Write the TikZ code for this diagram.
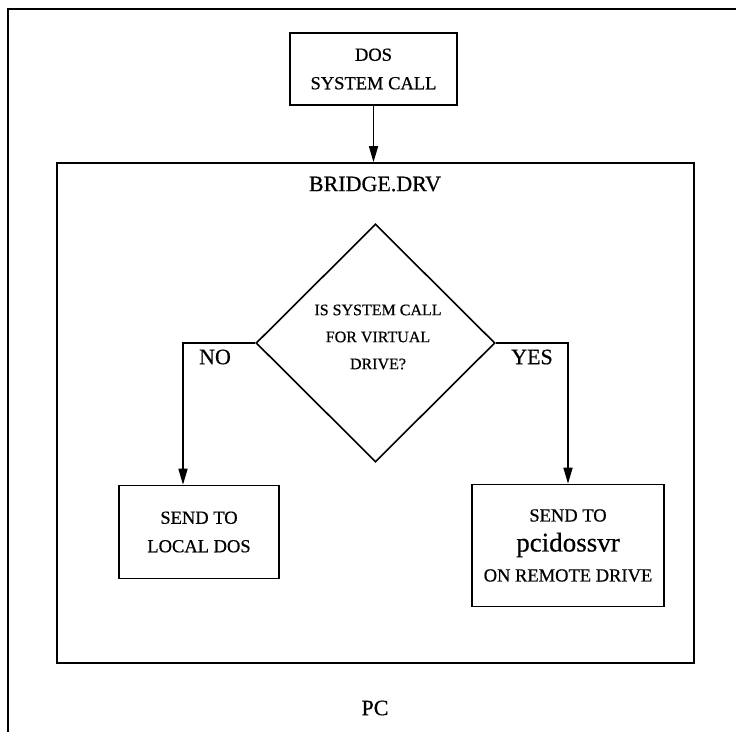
\documentclass[tikz,border=0pt]{standalone}
\usepackage{fontspec}
\setmainfont{Liberation Serif}[FakeBold=0.6]
\usetikzlibrary{arrows.meta,shapes.geometric}

\tikzset{
  every picture/.style={x=1pt,y=-1pt},
  wire/.style={line width=1.6pt},
  flow/.style={wire,-{Triangle[length=16pt,width=9pt]}},
  box/.style={draw,line width=1.6pt,rectangle,inner sep=0pt,align=center},
  small/.style={font=\fontsize{18.5}{28.5}\selectfont},
  big/.style={font=\fontsize{22}{28}\selectfont},
}

\begin{document}
\begin{tikzpicture}
  \useasboundingbox (0,0) rectangle (736,732);

  % enclosing PC frame: only its top and left sides fall on the page
  \coordinate (frameBL) at (8,732);
  \coordinate (frameTL) at (8,9);
  \coordinate (frameTR) at (736,9);
  \draw[wire] (frameBL) -- (frameTL) -- (frameTR);

  % incoming call
  \node[box,small,minimum width=167pt,minimum height=72pt] (dos) at (373.5,69)
    {DOS\\SYSTEM CALL};

  % driver frame
  \node[box,minimum width=637pt,minimum height=500pt] (bridge) at (375.5,413) {};
  \node[big] (bridgelbl) at (375,184) {BRIDGE.DRV};

  % decision
  \node[draw,line width=1.6pt,diamond,minimum width=239pt,minimum height=238pt,
        inner sep=0pt] (q) at (375.5,343) {};
  \node[align=center,font=\fontsize{16}{27}\selectfont] (qtext) at (378,337)
    {IS SYSTEM CALL\\FOR VIRTUAL\\DRIVE?};

  % outcomes
  \node[box,small,minimum width=160pt,minimum height=93pt] (local) at (199,532)
    {SEND TO\\LOCAL DOS};
  \node[box,font=\fontsize{18.5}{30}\selectfont,minimum width=192pt,minimum height=122pt]
    (remote) at (568,545.5)
    {SEND TO\\{\fontsize{27}{30}\selectfont pcidossvr}\\ON REMOTE DRIVE};

  \node[big] (no) at (215,357) {NO};
  \node[big] (yes) at (532,357) {YES};
  \node[big] (pc) at (375,708) {PC};

  % connectors
  \coordinate (nox) at (183,0);
  \draw[flow] (dos.south) -- (dos.south |- bridge.north);
  \draw[flow] (q.west) -| (nox |- local.north);
  \draw[flow] (q.east) -| (remote.north);
\end{tikzpicture}
\end{document}
